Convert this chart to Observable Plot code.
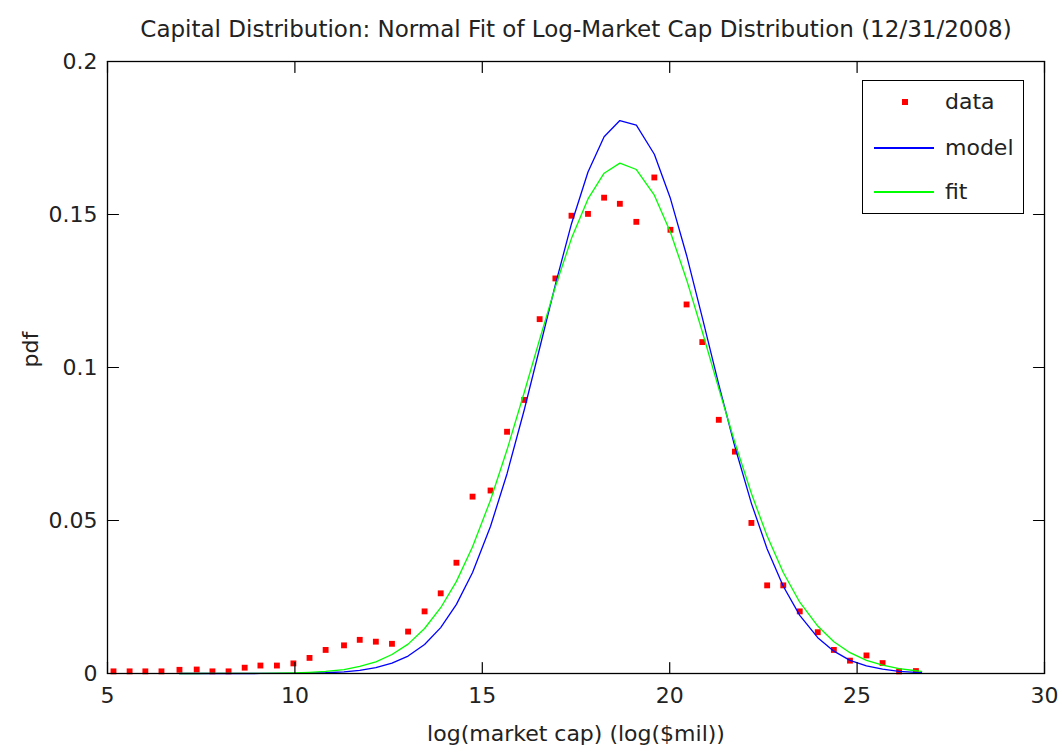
<!DOCTYPE html>
<html>
<head>
<meta charset="utf-8">
<script src="https://cdn.jsdelivr.net/npm/d3@7"></script>
<script src="https://cdn.jsdelivr.net/npm/@observablehq/plot@0.6"></script>
<style>
  body { margin: 0; background: #fff; }
  #wrap { position: relative; width: 1062px; height: 756px; font-family: "DejaVu Sans", sans-serif; }
  #legend { position: absolute; left: 862px; top: 80px; width: 162px; height: 134px; border: 1.5px solid #000; background: #fff; box-sizing: border-box; }
  .row { position: absolute; left: 0; height: 30px; width: 100%; }
  .sym { position: absolute; }
  .lbl { position: absolute; left: 82px; top: 50%; transform: translateY(-52%); font-size: 22px; color: #222; }
</style>
</head>
<body>
<div id="wrap"></div>
<script>
const titleText = "Capital Distribution: Normal Fit of Log-Market Cap Distribution (12/31/2008)";
const xLabel = "log(market cap) (log($mil))";
const yLabel = "pdf";
const xTicks = [5, 10, 15, 20, 25, 30];
const yTicks = [0, 0.05, 0.1, 0.15, 0.2];
const yTickLabels = ["0", "0.05", "0.1", "0.15", "0.2"];
const legendLabels = ["data", "model", "fit"];
const legendColors = ["#ff0000", "#0000ff", "#00ff00"];

const dataX = [5.16, 5.59, 6.01, 6.44, 6.92, 7.38, 7.80, 8.23, 8.66, 9.08,
  9.52, 9.96, 10.39, 10.82, 11.31, 11.73, 12.16, 12.59, 13.02, 13.46,
  13.89, 14.31, 14.74, 15.22, 15.66, 16.12, 16.53, 16.95, 17.38, 17.82,
  18.25, 18.67, 19.11, 19.59, 20.02, 20.45, 20.87, 21.31, 21.74, 22.18,
  22.60, 23.03, 23.47, 23.95, 24.38, 24.81, 25.25, 25.68, 26.12, 26.57];
const dataY = [0.0007, 0.0007, 0.0007, 0.0007, 0.0012, 0.0013, 0.0007, 0.0007, 0.0019, 0.0026,
  0.0026, 0.0033, 0.0051, 0.0077, 0.0092, 0.0110, 0.0104, 0.0097, 0.0137, 0.0203,
  0.0262, 0.0362, 0.0578, 0.0598, 0.0790, 0.0894, 0.1158, 0.1291, 0.1496, 0.1502,
  0.1555, 0.1535, 0.1476, 0.1621, 0.1450, 0.1206, 0.1083, 0.0829, 0.0725, 0.0492,
  0.0288, 0.0288, 0.0203, 0.0135, 0.0077, 0.0042, 0.0059, 0.0034, 0.0007, 0.0008];

const curveX = [6.92, 7.38, 7.80, 8.23, 8.66, 9.08, 9.52, 9.96, 10.39, 10.82,
  11.31, 11.73, 12.16, 12.59, 13.02, 13.46, 13.89, 14.31, 14.74, 15.22,
  15.66, 16.12, 16.53, 16.95, 17.38, 17.82, 18.25, 18.67, 19.11, 19.59,
  20.02, 20.45, 20.87, 21.31, 21.74, 22.18, 22.60, 23.03, 23.47, 23.95,
  24.38, 24.81, 25.25, 25.68, 26.12, 26.57, 26.72];
const modelY = [0, 0, 0, 0, 0, 0.00001, 0.00002, 0.00005, 0.00012, 0.00025,
  0.00055, 0.00104, 0.0019, 0.0034, 0.0057, 0.0095, 0.0150, 0.0226, 0.0330, 0.0481,
  0.0653, 0.0862, 0.1063, 0.1271, 0.1470, 0.1639, 0.1754, 0.1807, 0.1792, 0.1697,
  0.1552, 0.1367, 0.1163, 0.0944, 0.0741, 0.0556, 0.0407, 0.0285, 0.0190, 0.0117,
  0.0073, 0.0043, 0.0025, 0.0014, 0.0007, 0.0004, 0.0003];
const fitY = [0, 0, 0.00001, 0.00001, 0.00002, 0.00005, 0.0001, 0.0002, 0.0004, 0.0007,
  0.0013, 0.0023, 0.0038, 0.0062, 0.0096, 0.0147, 0.0215, 0.0301, 0.0414, 0.0567,
  0.0731, 0.0919, 0.1092, 0.1264, 0.1422, 0.1551, 0.1635, 0.1668, 0.1647, 0.1563,
  0.1442, 0.1287, 0.1117, 0.0931, 0.0754, 0.0588, 0.0449, 0.0330, 0.0233, 0.0155,
  0.0104, 0.0068, 0.0043, 0.0027, 0.0016, 0.0009, 0.0007];

const points = dataX.map((x, i) => ({x, y: dataY[i]}));
const model = curveX.map((x, i) => ({x, y: modelY[i]}));
const fit = curveX.map((x, i) => ({x, y: fitY[i]}));

const tickShape = {draw(context, l) { context.moveTo(0, 0); context.lineTo(0, -l); }};
const tickOpts = {length: 11, anchor: "start", shape: tickShape, stroke: "#000", strokeWidth: 1.2};

const chart = Plot.plot({
  width: 1062,
  height: 756,
  marginLeft: 107,
  marginRight: 18,
  marginTop: 61,
  marginBottom: 83,
  style: {fontFamily: "DejaVu Sans, sans-serif", background: "#fff", color: "#222"},
  x: {domain: [5, 30]},
  y: {domain: [0, 0.2]},
  marks: [
    Plot.dot(points, {x: "x", y: "y", symbol: "square", r: 3.3, fill: "#ff0000", stroke: "none"}),
    Plot.line(model, {x: "x", y: "y", stroke: "#0000ff", strokeWidth: 1.3}),
    Plot.line(fit, {x: "x", y: "y", stroke: "#00ff00", strokeWidth: 1.3}),
    Plot.frame({stroke: "#000", strokeWidth: 1.3}),
    Plot.vector(xTicks, {x: d => d, frameAnchor: "bottom", rotate: 0, ...tickOpts}),
    Plot.vector(xTicks, {x: d => d, frameAnchor: "top", rotate: 180, ...tickOpts}),
    Plot.vector(yTicks, {y: d => d, frameAnchor: "left", rotate: 90, ...tickOpts}),
    Plot.vector(yTicks, {y: d => d, frameAnchor: "right", rotate: -90, ...tickOpts}),
    Plot.axisX({ticks: xTicks, tickSize: 0, tickPadding: 14, fontSize: 22, label: null}),
    Plot.axisY({ticks: yTicks, tickSize: 0, tickPadding: 10, fontSize: 22, label: null,
      tickFormat: d => yTickLabels[yTicks.indexOf(d)]}),
    Plot.text([titleText], {text: d => d, frameAnchor: "top", dy: -41, fontSize: 23, fill: "#222"}),
    Plot.text([xLabel], {text: d => d, frameAnchor: "bottom", dy: 67, fontSize: 22, fill: "#222"}),
    Plot.text([yLabel], {text: d => d, frameAnchor: "left", dx: -77, rotate: -90, fontSize: 22, fill: "#222"})
  ]
});
const wrap = document.getElementById("wrap");
wrap.appendChild(chart);

// Legend
const legend = document.createElement("div");
legend.id = "legend";
const rowCenters = [21, 67, 111];
legendLabels.forEach((label, i) => {
  const row = document.createElement("div");
  row.className = "row";
  row.style.top = (rowCenters[i] - 15) + "px";
  const sym = document.createElement("div");
  sym.className = "sym";
  if (i === 0) {
    Object.assign(sym.style, {left: "39px", top: "12px", width: "6px", height: "6px", background: legendColors[i]});
  } else {
    Object.assign(sym.style, {left: "11px", top: "14px", width: "60px", height: "1.5px", background: legendColors[i]});
  }
  row.appendChild(sym);
  const lbl = document.createElement("div");
  lbl.className = "lbl";
  lbl.textContent = label;
  row.appendChild(lbl);
  legend.appendChild(row);
});
wrap.appendChild(legend);
</script>
</body>
</html>
